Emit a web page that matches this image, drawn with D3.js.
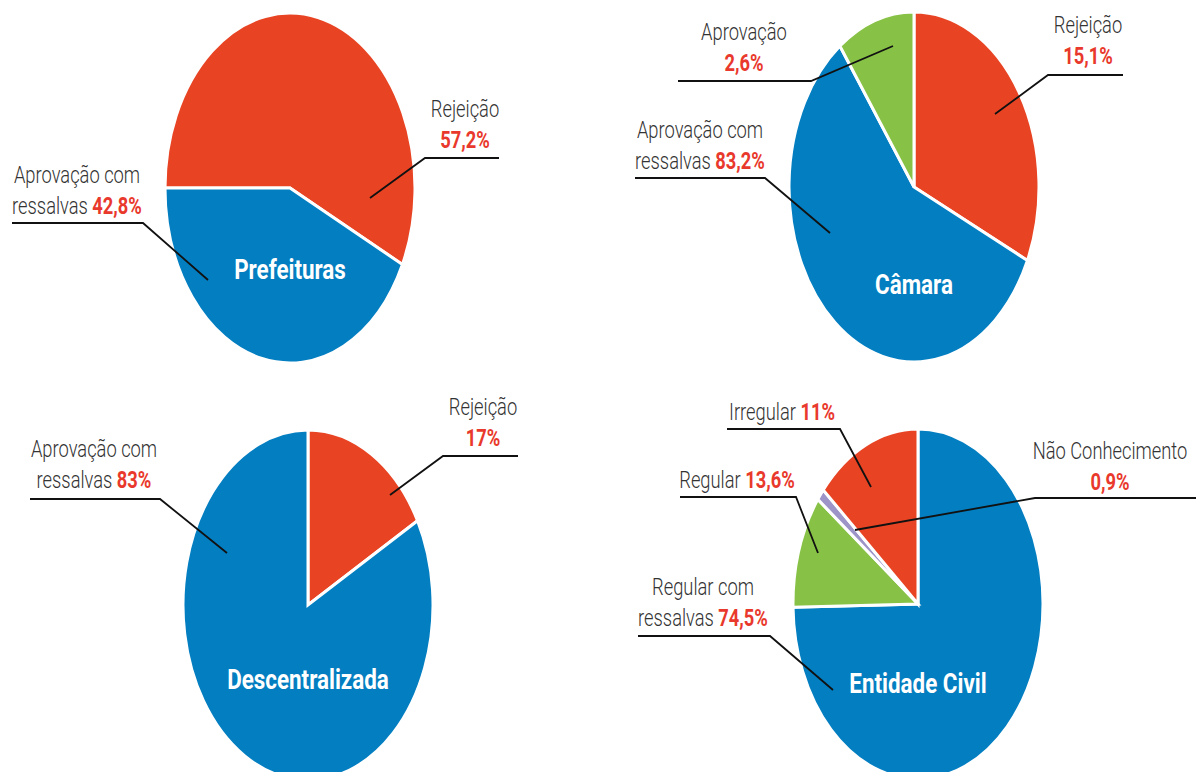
<!DOCTYPE html>
<html>
<head>
<meta charset="utf-8">
<script src="https://cdn.jsdelivr.net/npm/d3@7"></script>
<style>
  body{margin:0;background:#fff}
  svg{display:block}
</style>
</head>
<body>
<div id="chart"></div>
<script>
// chart titles, one per pie
const titles = ["Prefeituras", "Câmara", "Descentralizada", "Entidade Civil"]

const prefeiturasNames = ["Rejeição", "Aprovação com ressalvas"]
const prefeiturasValues = [57.2, 42.8]
const prefeiturasLabels = ["57,2%", "42,8%"]

const camaraNames = ["Rejeição", "Aprovação com ressalvas", "Aprovação"]
const camaraValues = [31.9, 58.0, 10.1]
const camaraLabels = ["15,1%", "83,2%", "2,6%"]

const descentralizadaNames = ["Rejeição", "Aprovação com ressalvas"]
const descentralizadaValues = [17, 83]
const descentralizadaLabels = ["17%", "83%"]

const entidadeNames = ["Regular com ressalvas", "Regular", "Não Conhecimento", "Irregular"]
const entidadeValues = [74.7, 10.5, 1.1, 13.7]
const entidadeLabels = ["74,5%", "13,6%", "0,9%", "11%"]

const colors = {
  "Rejeição": "#e84424", "Irregular": "#e84424",
  "Aprovação com ressalvas": "#037ec1", "Regular com ressalvas": "#037ec1",
  "Aprovação": "#87c246", "Regular": "#87c246",
  "Não Conhecimento": "#9d95c7"
}

const pies = [
  {names: prefeiturasNames, values: prefeiturasValues, labels: prefeiturasLabels},
  {names: camaraNames, values: camaraValues, labels: camaraLabels},
  {names: descentralizadaNames, values: descentralizadaValues, labels: descentralizadaLabels},
  {names: entidadeNames, values: entidadeValues, labels: entidadeLabels}
]

// where things go on the page
function createCanvas(){
  return {
    width: 1196, height: 772, rx: 125, ry: 175,
    pies: [
      {cx: 290, cy: 188, start: -90, titleY: 279, labels: [
        {x: 465, y: 117, mode: "stack", line: 158, x0: 425, x1: 499, elbow: "left", to: [80, 10]},
        {x: 77, y: 183, mode: "split", line: 223, x0: 12, x1: 143, elbow: "right", to: [-82, 92]}
      ]},
      {cx: 914, cy: 187, start: 0, titleY: 294, labels: [
        {x: 1088, y: 33, mode: "stack", line: 75, x0: 1048, x1: 1123, elbow: "left", to: [81, -73]},
        {x: 700, y: 138, mode: "split", line: 178, x0: 635, x1: 765, elbow: "right", to: [-84, 46]},
        {x: 744, y: 40, mode: "stack", line: 81, x0: 678, x1: 811, elbow: "right", to: [-21, -141]}
      ]},
      {cx: 308, cy: 605, start: 0, titleY: 689, labels: [
        {x: 483, y: 415, mode: "stack", line: 456, x0: 443, x1: 518, elbow: "left", to: [82, -110]},
        {x: 94, y: 457, mode: "split", line: 499, x0: 30, x1: 160, elbow: "right", to: [-81, -52]}
      ]},
      {cx: 918, cy: 604, start: 0, titleY: 693, labels: [
        {x: 703, y: 595, mode: "split", line: 636, x0: 638, x1: 770, elbow: "right", to: [-85, 86]},
        {x: 737, y: 488, mode: "inline", line: 497, x0: 680, x1: 796, elbow: "right", to: [-100, -51]},
        {x: 1110, y: 459, mode: "stack", line: 498, x0: 1035, x1: 1196, elbow: "left", to: [-63, -74]},
        {x: 782, y: 420, mode: "inline", line: 429, x0: 727, x1: 840, elbow: "right", to: [-47, -117]}
      ]}
    ]
  }
}

function addSvg(id, canvas){
  return d3.select(id).append("svg")
    .attr("width", canvas.width).attr("height", canvas.height)
    .attr("viewBox", `0 0 ${canvas.width} ${canvas.height}`)
    .style("font-family", "Roboto, 'Liberation Sans', sans-serif")
}

function addPie(svg, canvas, pie, pos, title){
  const a0 = pos.start * Math.PI / 180
  const slices = d3.pie().sort(null).startAngle(a0).endAngle(a0 + 2 * Math.PI)(pie.values)
  const arc = d3.arc().innerRadius(0).outerRadius(canvas.rx)

  const g = svg.append("g")
    .attr("transform", `translate(${pos.cx},${pos.cy}) scale(1,${canvas.ry / canvas.rx})`)

  g.selectAll("path").data(slices).join("path")
    .attr("d", arc)
    .attr("fill", (d, i) => colors[pie.names[i]])
    .attr("stroke", "#fff").attr("stroke-width", 3)
    .attr("vector-effect", "non-scaling-stroke")

  svg.append("text")
    .attr("transform", `translate(${pos.cx},${pos.titleY}) scale(0.8,1)`)
    .attr("text-anchor", "middle")
    .attr("font-size", 28).attr("font-weight", 700).attr("fill", "#fff")
    .text(title)
}

function addLabels(svg, pie, pos){
  pos.labels.forEach((lb, i) => {
    const name = pie.names[i], pct = pie.labels[i]
    let rows
    if (lb.mode === "stack") rows = [[name, null], [null, pct]]
    else if (lb.mode === "split") {
      const words = name.split(" ")
      rows = [[words.slice(0, -1).join(" "), null], [words[words.length - 1] + " ", pct]]
    }
    else rows = [[name + " ", pct]]

    rows.forEach((r, k) => {
      const t = svg.append("text")
        .attr("transform", `translate(${lb.x},${lb.y + k * 31}) scale(0.78,1)`)
        .attr("text-anchor", "middle").attr("font-size", 23.5)
      if (r[0]) t.append("tspan").attr("fill", "#333").attr("font-weight", 300).text(r[0])
      if (r[1]) t.append("tspan").attr("fill", "#e9392c").attr("font-weight", 700).text(r[1])
    })

    const target = [pos.cx + lb.to[0], pos.cy + lb.to[1]]
    const pts = lb.elbow === "left"
      ? [target, [lb.x0, lb.line], [lb.x1, lb.line]]
      : [target, [lb.x1, lb.line], [lb.x0, lb.line]]

    svg.append("path")
      .attr("d", d3.line()(pts))
      .attr("fill", "none").attr("stroke", "#111").attr("stroke-width", 1.8)
  })
}

function drawCharts(id){
  const canvas = createCanvas()
  const svg = addSvg(id, canvas)
  pies.forEach((p, i) => addPie(svg, canvas, p, canvas.pies[i], titles[i]))
  pies.forEach((p, i) => addLabels(svg, p, canvas.pies[i]))
}

drawCharts("#chart")
</script>
</body>
</html>
